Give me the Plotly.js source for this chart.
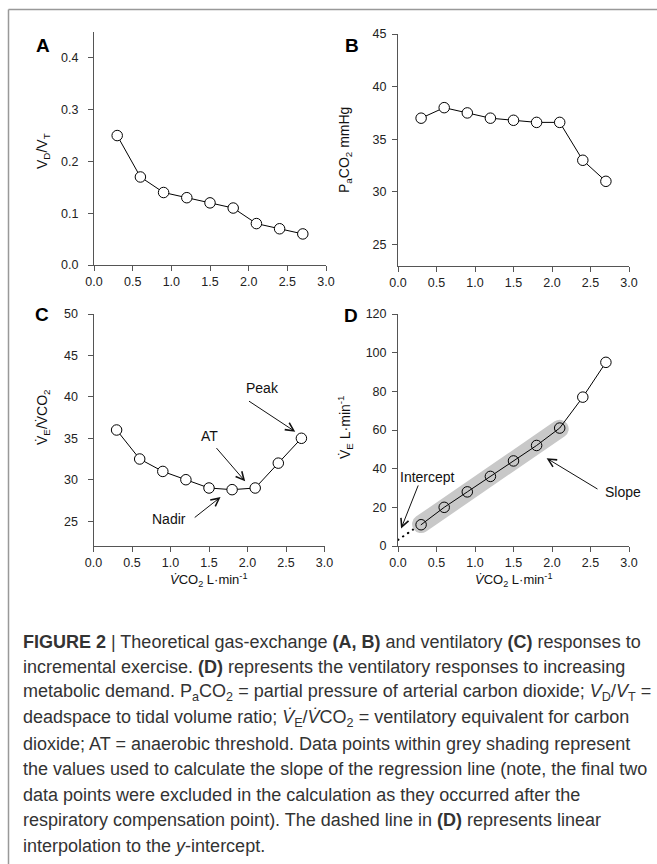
<!DOCTYPE html>
<html><head><meta charset="utf-8">
<script src="https://cdn.plot.ly/plotly-3.0.1.min.js"></script>
<style>
html,body{margin:0;padding:0;background:#fff;}
#chart{width:657px;height:864px;}
path.js-line{stroke-linecap:round !important;}
</style></head><body><div id="chart"></div>
<script>
// ---- data ----
const vco2   = [0.3, 0.6, 0.9, 1.2, 1.5, 1.8, 2.1, 2.4, 2.7];
const vdvt   = [0.25, 0.17, 0.14, 0.13, 0.12, 0.11, 0.08, 0.07, 0.06];
const paco2  = [37, 38, 37.5, 37, 36.8, 36.6, 36.6, 33, 31];
const veVco2 = [36, 32.5, 31, 30, 29, 28.8, 29, 32, 35];
const ve     = [11, 20, 28, 36, 44, 52, 61, 77, 95];
const slopeCount = 7;   // points inside grey shading (used in regression)

// regression of ve on vco2 for shaded points
const rx = vco2.slice(0, slopeCount), ry = ve.slice(0, slopeCount);
const mx = rx.reduce((a,b)=>a+b,0)/rx.length, my = ry.reduce((a,b)=>a+b,0)/ry.length;
let sxy=0, sxx=0;
rx.forEach((v,i)=>{sxy+=(v-mx)*(ry[i]-my); sxx+=(v-mx)*(v-mx);});
const slope = sxy/sxx, intercept = my - slope*mx;
const fit = x => intercept + slope*x;
const bandX = [rx[0], rx[rx.length-1]];
const dotX = [0, rx[0]];

// ---- layout helpers (pixel -> paper) ----
const W = 657, H = 864;
const px = v => v / W, py = v => 1 - v / H;
const FONT = 'Liberation Sans, Arial, sans-serif';

const lineStyle = {color: '#000', width: 1};
const mk = (fill) => ({symbol: 'circle', size: 10.5, color: fill, line: {color: '#000', width: 1}});

const traces = [
  {x: vco2, y: vdvt, xaxis: 'x', yaxis: 'y', mode: 'lines+markers', line: lineStyle, marker: mk('#fff')},
  {x: vco2, y: paco2, xaxis: 'x2', yaxis: 'y2', mode: 'lines+markers', line: lineStyle, marker: mk('#fff')},
  {x: vco2, y: veVco2, xaxis: 'x3', yaxis: 'y3', mode: 'lines+markers', line: lineStyle, marker: mk('#fff')},
  {x: dotX, y: dotX.map(fit), xaxis: 'x4', yaxis: 'y4', mode: 'lines', line: {color: '#000', width: 2, dash: '0.5px,5.5px'}},
  {x: bandX, y: bandX.map(fit), xaxis: 'x4', yaxis: 'y4', mode: 'lines', line: {color: '#c8c8c8', width: 18}},
  {x: vco2, y: ve, xaxis: 'x4', yaxis: 'y4', mode: 'lines+markers', line: lineStyle,
   marker: mk(vco2.map((v,i)=> i < slopeCount ? 'rgba(0,0,0,0)' : '#fff'))}
];

const axBase = {
  showgrid: false, zeroline: false, showline: true, linecolor: '#555', linewidth: 1,
  ticks: 'outside', ticklen: 5, tickcolor: '#555', tickwidth: 1,
  tickfont: {family: FONT, size: 12.5, color: '#222'}, fixedrange: true
};
const xAx = (dom, anchor) => Object.assign({}, axBase, {domain: dom, anchor: anchor, range: [0, 3], tickmode: 'linear', tick0: 0, dtick: 0.5, tickformat: '.1f'});
const yAx = (dom, anchor, range, dtick, fmt, standoff) => Object.assign({}, axBase, {domain: dom, anchor: anchor, range: range, tickmode: 'linear', tick0: 0, dtick: dtick, tickformat: fmt, ticklabelstandoff: standoff});

const ann = [];
const txt = (text, x, y, opts) => ann.push(Object.assign({text: text, x: x, y: y, xref: 'paper', yref: 'paper', showarrow: false,
  xanchor: 'center', yanchor: 'middle', font: {family: FONT, size: 14, color: '#111'}}, opts || {}));

// panel letters
[['A', 43, 45], ['B', 352, 45], ['C', 42, 315], ['D', 351, 316]].forEach(l =>
  txt('<b>' + l[0] + '</b>', px(l[1]), py(l[2]), {font: {family: FONT, size: 19, color: '#000'}}));

// axis titles
txt('V<sub>D</sub>/V<sub>T</sub>', px(43), py(151), {textangle: -90});
txt('P<sub>a</sub>CO<sub>2</sub> mmHg', px(345), py(150), {textangle: -90});
txt('V\u0307<sub>E</sub>/V\u0307CO<sub>2</sub>', px(43), py(417), {textangle: -90});
txt('V\u0307<sub>E</sub> L\u00b7min<sup>-1</sup>', px(345), py(427), {textangle: -90});
txt('<i>V\u0307</i>CO<sub>2</sub> L\u00b7min<sup>-1</sup>', px(208), py(580), {font: {family: FONT, size: 13, color: '#111'}});
txt('<i>V\u0307</i>CO<sub>2</sub> L\u00b7min<sup>-1</sup>', px(513), py(580), {font: {family: FONT, size: 13, color: '#111'}});

// panel text labels and arrows
const dataTxt = (text, xr, yr, x, y) => ann.push({text: text, x: x, y: y, xref: xr, yref: yr, showarrow: false,
  xanchor: 'center', yanchor: 'middle', font: {family: FONT, size: 14, color: '#111'}});
const arrow = (xr, yr, hx, hy, tx, ty) => ann.push({text: '', x: hx, y: hy, xref: xr, yref: yr, ax: tx, ay: ty, axref: xr, ayref: yr,
  showarrow: true, arrowhead: 5, arrowsize: 1.6, arrowwidth: 1, arrowcolor: '#111', standoff: 0, startstandoff: 0});
dataTxt('Peak', 'x3', 'y3', 2.19, 41.1);   arrow('x3', 'y3', 2.62, 35.8, 2.0, 39.6);
dataTxt('AT', 'x3', 'y3', 1.50, 35.3);     arrow('x3', 'y3', 1.97, 29.8, 1.58, 34.0);
dataTxt('Nadir', 'x3', 'y3', 0.98, 25.2);  arrow('x3', 'y3', 1.65, 27.9, 1.295, 25.3);
dataTxt('Intercept', 'x4', 'y4', 0.38, 35.7); arrow('x4', 'y4', 0.04, 9.0, 0.27, 32.1);
dataTxt('Slope', 'x4', 'y4', 2.92, 27.8);  arrow('x4', 'y4', 1.93, 45.4, 2.61, 29.0);

// caption
const caption = [
  '<b>FIGURE 2</b> | Theoretical gas-exchange <b>(A, B)</b> and ventilatory <b>(C)</b> responses to',
  'incremental exercise. <b>(D)</b> represents the ventilatory responses to increasing',
  'metabolic demand. P<sub>a</sub>CO<sub>2</sub> = partial pressure of arterial carbon dioxide; <i>V</i><sub>D</sub>/<i>V</i><sub>T</sub> =',
  'deadspace to tidal volume ratio; <i>V\u0307</i><sub>E</sub>/<i>V\u0307</i>CO<sub>2</sub> = ventilatory equivalent for carbon',
  'dioxide; AT = anaerobic threshold. Data points within grey shading represent',
  'the values used to calculate the slope of the regression line (note, the final two',
  'data points were excluded in the calculation as they occurred after the',
  'respiratory compensation point). The dashed line in <b>(D)</b> represents linear',
  'interpolation to the <i>y</i>-intercept.'
];
caption.forEach((line, i) => txt(line, px(21), py(641.5 + i * 25.5),
  {xanchor: 'left', font: {family: FONT, size: 18, color: '#333'}}));

const layout = {
  width: W, height: H, margin: {l: 0, r: 0, t: 0, b: 0},
  paper_bgcolor: '#fff', plot_bgcolor: 'rgba(0,0,0,0)', showlegend: false,
  xaxis:  xAx([px(94), px(326)], 'y'),
  yaxis:  yAx([py(265), py(32)], 'x', [0, 0.45], 0.1, '.1f', 7),
  xaxis2: xAx([px(398), px(629)], 'y2'),
  yaxis2: yAx([py(265.5), py(34)], 'x2', [23, 45], 5, 'd', 3),
  xaxis3: xAx([px(93.5), px(324.5)], 'y3'),
  yaxis3: yAx([py(546), py(314)], 'x3', [22, 50], 5, 'd', 7),
  xaxis4: xAx([px(398), px(629)], 'y4'),
  yaxis4: yAx([py(546), py(314)], 'x4', [0, 120], 20, 'd', 3),
  annotations: ann,
  shapes: [
    {type: 'line', xref: 'paper', yref: 'paper', x0: px(8.5), x1: px(8.5), y0: 0, y1: py(9.5), line: {color: '#999', width: 1.5}},
    {type: 'line', xref: 'paper', yref: 'paper', x0: px(8.5), x1: 1, y0: py(9.5), y1: py(9.5), line: {color: '#999', width: 1.5}}
  ]
};

Plotly.newPlot('chart', traces, layout, {staticPlot: true, displayModeBar: false});
</script></body></html>
